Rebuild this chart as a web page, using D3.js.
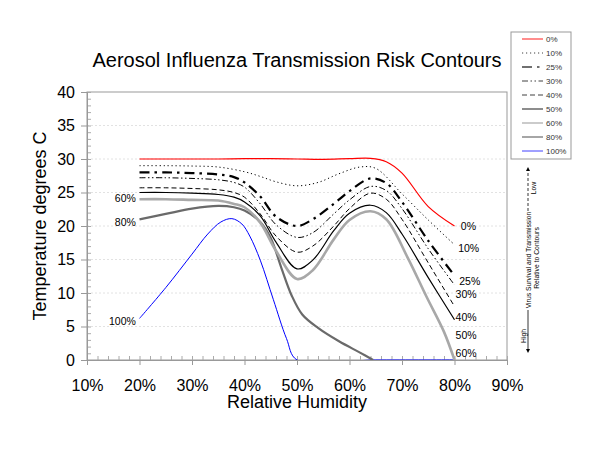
<!DOCTYPE html>
<html>
<head>
<meta charset="utf-8">
<script src="https://cdn.jsdelivr.net/npm/d3@7"></script>
<style>
  html, body { margin: 0; padding: 0; background: #fff; }
  svg { display: block; font-family: "Liberation Sans", Arial, Helvetica, sans-serif; }
</style>
</head>
<body>
<div id="chart"></div>
<script>
// Contour data: [relative humidity %, temperature C]
const rh0 = [[20,30],[25,30],[30,30],[35,30],[40,30.05],[45,30.05],[50,30],[55,29.95],[60,30.05],[64,30.1],[67,29.6],[70,27.9],[75,22.9],[80,20]];
const rh10 = [[20,29],[25,29],[30,28.95],[35,28.8],[40,28.1],[43,27.4],[46,26.6],[50,26],[54,26.5],[58,27.8],[62,28.8],[65,28.6],[70,24.8],[75,20.9],[80,17.2]];
const rh25 = [[20,28],[25,28],[30,27.9],[35,27.7],[38,27.3],[40,26.5],[43,24.4],[46,21.4],[50,20],[53,21],[57,23.3],[60,25.2],[64,27.1],[67,26.4],[70,23.6],[75,17.8],[80,12.6]];
const rh30 = [[20,27.2],[25,27.2],[30,27.1],[35,26.9],[38,26.5],[40,25.8],[43,23.3],[46,20.2],[50,18.3],[53,19],[57,21.8],[60,23.9],[64,25.9],[67,25.3],[70,22.6],[75,16.6],[80,11.2]];
const rh40 = [[20,25.7],[25,25.7],[30,25.6],[35,25.4],[38,25],[40,24.3],[43,21.8],[46,18.5],[50,16.1],[53,17],[57,20],[60,22.6],[64,24.9],[67,24],[70,21],[75,14.5],[80,8]];
const rh50 = [[20,25],[25,25],[30,24.9],[35,24.7],[38,24.3],[40,23.6],[43,21.5],[46,17.6],[50,13.6],[53,14.9],[57,19.3],[60,21.9],[64,23.1],[67,22],[70,18.8],[75,12.3],[80,6]];
const rh60 = [[20,24],[25,24],[30,23.9],[35,23.8],[38,23.3],[40,22.8],[43,20.5],[46,16.3],[50,12.1],[53,13.4],[57,18],[60,20.9],[64,22.2],[67,21],[71,15.4],[74.7,9.4],[78,4.2],[80,0]];
const rh80 = [[20,21],[25,21.8],[30,22.6],[35,23],[38,22.8],[40,22.3],[43,20.6],[45,18.2],[47,13.8],[49,9.6],[51,6.8],[54,4.8],[58,2.8],[62,1.1],[64.5,0]];
const rh100 = [[20,6.2],[25,10.8],[30,15.8],[33,18.8],[35.5,20.6],[37.6,21.1],[39.5,20.3],[41,18.5],[43,14.9],[45.5,9],[48,3.2],[50,0],[65,0],[80,0]];

const seriesNames = ['0%', '10%', '25%', '30%', '40%', '50%', '60%', '80%', '100%'];
const seriesData = [rh0, rh10, rh25, rh30, rh40, rh50, rh60, rh80, rh100];

// curve label anchors: [text, rh, temp]
const rightLabels = [['0%',81.2,20],['10%',80.7,16.6],['25%',80.9,11.8],['30%',80.2,9.8],['40%',80.2,6.4],['50%',80.2,3.7],['60%',80.2,1]];
const leftLabels = [['60%',19.3,24.1],['80%',19.3,20.5],['100%',19.3,5.7]];

const xTicks = [10, 20, 30, 40, 50, 60, 70, 80, 90];
const yTicks = [0, 5, 10, 15, 20, 25, 30, 35, 40];

const styles = {
  '0%':   { color: '#ff0000', width: 1.2, dash: null },
  '10%':  { color: '#000', width: 1, dash: '1.2,2.8' },
  '25%':  { color: '#000', width: 2.2, dash: '10,5,2.5,5' },
  '30%':  { color: '#000', width: 1, dash: '6,2.5,1.5,2.5,1.5,2.5' },
  '40%':  { color: '#000', width: 1, dash: '5,3' },
  '50%':  { color: '#000', width: 1.2, dash: null },
  '60%':  { color: '#a8a8a8', width: 2.6, dash: null },
  '80%':  { color: '#6a6a6a', width: 2.2, dash: null },
  '100%': { color: '#0000ff', width: 1, dash: null }
};

const W = 600, H = 464;
const margin = { top: 92, right: 93, bottom: 104, left: 87 };
const width = W - margin.left - margin.right;
const height = H - margin.top - margin.bottom;

const svg = d3.select('#chart').append('svg')
  .attr('width', W)
  .attr('height', H);

const defs = svg.append('defs');
defs.append('clipPath').attr('id', 'plotclip')
  .append('rect').attr('x', 0).attr('y', -2).attr('width', width).attr('height', height + 2);

const g = svg.append('g')
  .attr('transform', `translate(${margin.left},${margin.top})`);

const x = d3.scaleLinear().domain([10, 90]).range([0, width]);
const y = d3.scaleLinear().domain([0, 40]).range([height, 0]);

// light gridlines
g.append('g')
  .selectAll('line')
  .data(yTicks.filter(d => d > 0 && d < 40))
  .enter().append('line')
  .attr('x1', 0).attr('x2', width)
  .attr('y1', d => y(d)).attr('y2', d => y(d))
  .attr('stroke', '#e2e2e2')
  .attr('stroke-dasharray', '2,2');

// plot frame
g.append('rect')
  .attr('width', width).attr('height', height)
  .attr('fill', 'none')
  .attr('stroke', '#999').attr('stroke-width', 1);

// minor ticks (inside)
g.append('g')
  .call(d3.axisRight(y).tickValues(d3.range(0, 41, 1)).tickSize(4).tickFormat(''))
  .call(a => a.select('.domain').remove())
  .selectAll('line').attr('stroke', '#aaa');
g.append('g')
  .attr('transform', `translate(0,${height})`)
  .call(d3.axisTop(x).tickValues(d3.range(10, 91, 2)).tickSize(4).tickFormat(''))
  .call(a => a.select('.domain').remove())
  .selectAll('line').attr('stroke', '#aaa');

// series
const line = d3.line()
  .x(d => x(d[0]))
  .y(d => y(d[1]))
  .curve(d3.curveCatmullRom.alpha(0.5));

const plot = g.append('g').attr('clip-path', 'url(#plotclip)');
seriesNames.slice().reverse().forEach(name => {
  const i = seriesNames.indexOf(name);
  const s = styles[name];
  plot.append('path')
    .datum(seriesData[i])
    .attr('fill', 'none')
    .attr('stroke', s.color)
    .attr('stroke-width', s.width)
    .attr('stroke-dasharray', s.dash)
    .attr('d', line);
});

// major axes
const yAxis = g.append('g')
  .call(d3.axisLeft(y).tickValues(yTicks).tickSize(6).tickPadding(6));
yAxis.select('.domain').attr('stroke', '#999');
yAxis.selectAll('line').attr('stroke', '#999');
yAxis.selectAll('text').attr('font-size', 16).attr('fill', '#000')
  .attr('font-family', '"Liberation Sans", Arial, sans-serif');

const xAxis = g.append('g')
  .attr('transform', `translate(0,${height})`)
  .call(d3.axisBottom(x).tickValues(xTicks).tickSize(5).tickFormat(d => d + '%'));
xAxis.select('.domain').attr('stroke', '#999');
xAxis.selectAll('line').attr('stroke', '#999');
xAxis.selectAll('text').attr('font-size', 16).attr('fill', '#000')
  .attr('font-family', '"Liberation Sans", Arial, sans-serif')
  .attr('y', 25).attr('dy', '0.35em');

// curve labels
g.selectAll('.rlabel')
  .data(rightLabels)
  .enter().append('text')
  .attr('x', d => x(d[1]))
  .attr('y', d => y(d[2]))
  .attr('dy', '0.35em')
  .attr('font-size', 10.5)
  .text(d => d[0]);

g.selectAll('.llabel')
  .data(leftLabels)
  .enter().append('text')
  .attr('x', d => x(d[1]))
  .attr('y', d => y(d[2]))
  .attr('dy', '0.35em')
  .attr('text-anchor', 'end')
  .attr('font-size', 10.5)
  .text(d => d[0]);

// titles
svg.append('text')
  .attr('x', margin.left + width / 2)
  .attr('y', 67)
  .attr('text-anchor', 'middle')
  .attr('font-size', 20)
  .text('Aerosol Influenza Transmission Risk Contours');

svg.append('text')
  .attr('x', margin.left + width / 2)
  .attr('y', 408)
  .attr('text-anchor', 'middle')
  .attr('font-size', 18)
  .text('Relative Humidity');

svg.append('text')
  .attr('transform', `translate(46,${margin.top + height / 2}) rotate(-90)`)
  .attr('text-anchor', 'middle')
  .attr('font-size', 18)
  .text('Temperature degrees C');

// legend
const legend = svg.append('g').attr('transform', 'translate(511,32)');
legend.append('rect')
  .attr('width', 60).attr('height', 127)
  .attr('fill', '#fff')
  .attr('stroke', '#999');
seriesNames.forEach((name, i) => {
  const s = styles[name];
  const ly = 7 + i * 14;
  legend.append('line')
    .attr('x1', 11).attr('x2', 32)
    .attr('y1', ly).attr('y2', ly)
    .attr('stroke', s.color)
    .attr('stroke-width', Math.min(s.width, 1.6))
    .attr('stroke-opacity', 0.75)
    .attr('stroke-dasharray', s.dash);
  legend.append('text')
    .attr('x', 35).attr('y', ly)
    .attr('dy', '0.35em')
    .attr('font-size', 8)
    .attr('fill', '#333')
    .text(name);
});

// side annotation
const ann = svg.append('g');
const ax = 528;
defs.append('marker')
  .attr('id', 'arr')
  .attr('viewBox', '0 0 10 10')
  .attr('refX', 5).attr('refY', 5)
  .attr('markerWidth', 5).attr('markerHeight', 5)
  .attr('orient', 'auto-start-reverse')
  .append('path').attr('d', 'M0,0L10,5L0,10z').attr('fill', '#000');
ann.append('line')
  .attr('x1', ax).attr('x2', ax).attr('y1', 211).attr('y2', 169)
  .attr('stroke', '#000').attr('stroke-width', 0.8)
  .attr('stroke-dasharray', '3,2')
  .attr('marker-end', 'url(#arr)');
ann.append('line')
  .attr('x1', ax).attr('x2', ax).attr('y1', 310).attr('y2', 351)
  .attr('stroke', '#000').attr('stroke-width', 0.8)
  .attr('marker-end', 'url(#arr)');
ann.append('text')
  .attr('transform', `translate(${ax + 2.5},260) rotate(-90)`)
  .attr('text-anchor', 'middle')
  .attr('font-size', 6.8)
  .text('Virus Survival and Transmission');
ann.append('text')
  .attr('transform', `translate(${ax + 11},258) rotate(-90)`)
  .attr('text-anchor', 'middle')
  .attr('font-size', 6.8)
  .text('Relative to Contours');
ann.append('text')
  .attr('transform', `translate(${ax + 7.5},188) rotate(-90)`)
  .attr('text-anchor', 'middle')
  .attr('font-size', 6.8)
  .text('Low');
ann.append('text')
  .attr('transform', `translate(${ax - 2},336) rotate(-90)`)
  .attr('text-anchor', 'middle')
  .attr('font-size', 6.8)
  .text('High');
</script>
</body>
</html>
